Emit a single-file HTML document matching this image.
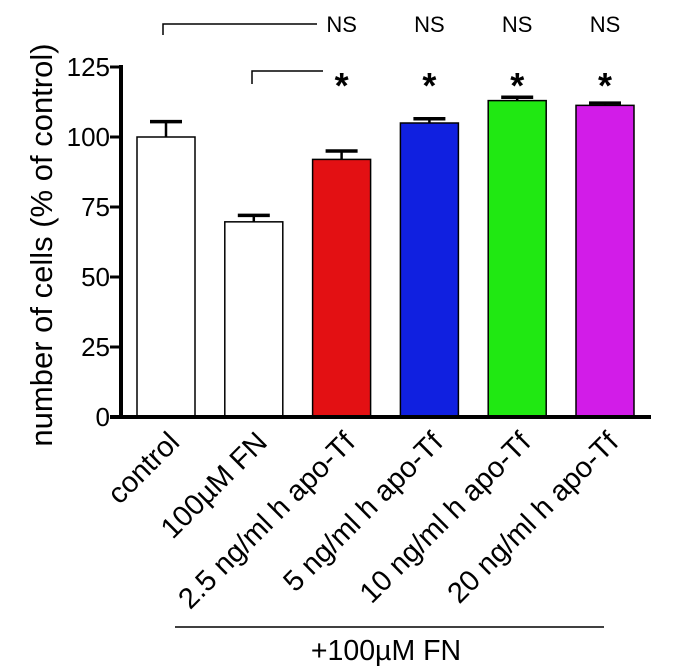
<!DOCTYPE html>
<html><head><meta charset="utf-8"><style>
html,body{margin:0;padding:0;background:#fff}
svg{display:block;font-family:"Liberation Sans",Arial,sans-serif}
</style></head><body>
<svg id="chart" width="700" height="672" viewBox="0 0 700 672">
<g id="bars"></g>
<g id="axes"></g>
<text x="0" y="0" transform="translate(52,245) rotate(-90)" text-anchor="middle" font-size="31" fill="#000">number of cells (% of control)</text>
<g stroke="#000" stroke-width="1.5" fill="none">
<polyline points="163,35 163,24 317,24"/>
<polyline points="252,84 252,71 323,71"/>
</g>
<line x1="175" y1="627" x2="604" y2="627" stroke="#000" stroke-width="1.5"/>
<text x="386" y="660" text-anchor="middle" font-size="28.5">+100µM FN</text>
<script>
const categories=["control","100µM FN","2.5 ng/ml h apo-Tf","5 ng/ml h apo-Tf","10 ng/ml h apo-Tf","20 ng/ml h apo-Tf"];
const values=[100,69.7,92,105,113,111.3];
const errors=[5.5,2.3,3,1.5,1.2,0.8];
const colors=["#ffffff","#ffffff","#e31013","#1020e0","#20e812","#d21ce8"];
const ticks=[0,25,50,75,100,125];
const nsMarks=["","","NS","NS","NS","NS"];
const starMarks=["","","*","*","*","*"];
const NS="http://www.w3.org/2000/svg";
const y0=417,pxPerUnit=2.8,x0=137,step=87.8,bw=58;
function y(v){return y0-v*pxPerUnit;}
function x(i){return x0+i*step;}
function mk(tag,attrs,parent){const e=document.createElementNS(NS,tag);for(const k in attrs)e.setAttribute(k,attrs[k]);parent.appendChild(e);return e;}
const bars=document.getElementById('bars'),axes=document.getElementById('axes'),svg=document.getElementById('chart');
categories.forEach((c,i)=>{
  const r=mk('rect',{x:x(i),y:y(values[i]),width:bw,height:y0-y(values[i]),fill:colors[i],stroke:'#000','stroke-width':1.5},bars);
  
  
  const cx=x(i)+bw/2,ey=y(values[i]+errors[i]);
  const e1=mk('line',{x1:cx,y1:y(values[i]),x2:cx,y2:ey,stroke:'#000','stroke-width':2.5},bars);
  
  
  const e2=mk('line',{x1:cx-16,y1:ey,x2:cx+16,y2:ey,stroke:'#000','stroke-width':3.5},bars);
  
  
  const t=mk('text',{x:0,y:0,transform:`translate(${cx+15},${y0+27}) rotate(-45)`,'text-anchor':'end','font-size':29},svg);
  t.textContent=c;
  
  
  if(nsMarks[i]){const n=mk('text',{x:cx,y:32,'text-anchor':'middle','font-size':22},svg);n.textContent=nsMarks[i];
  
  }
  if(starMarks[i]){const s=mk('text',{x:cx,y:98,'text-anchor':'middle','font-size':36,'font-weight':'bold'},svg);s.textContent=starMarks[i];
  
  }
});
const ya=mk('line',{x1:121,y1:y(125)-2,x2:121,y2:y0+2,stroke:'#000','stroke-width':4},axes);


const xa=mk('line',{x1:110,y1:y0,x2:651,y2:y0,stroke:'#000','stroke-width':4},axes);


ticks.forEach(t=>{
  const l=mk('line',{x1:110,y1:y(t),x2:121,y2:y(t),stroke:'#000','stroke-width':3},axes);
  
  
  const tx=mk('text',{x:110,y:y(t)+9,'text-anchor':'end','font-size':26},axes);
  tx.textContent=t;
  
  
});
</script>
</svg>
</body></html>
